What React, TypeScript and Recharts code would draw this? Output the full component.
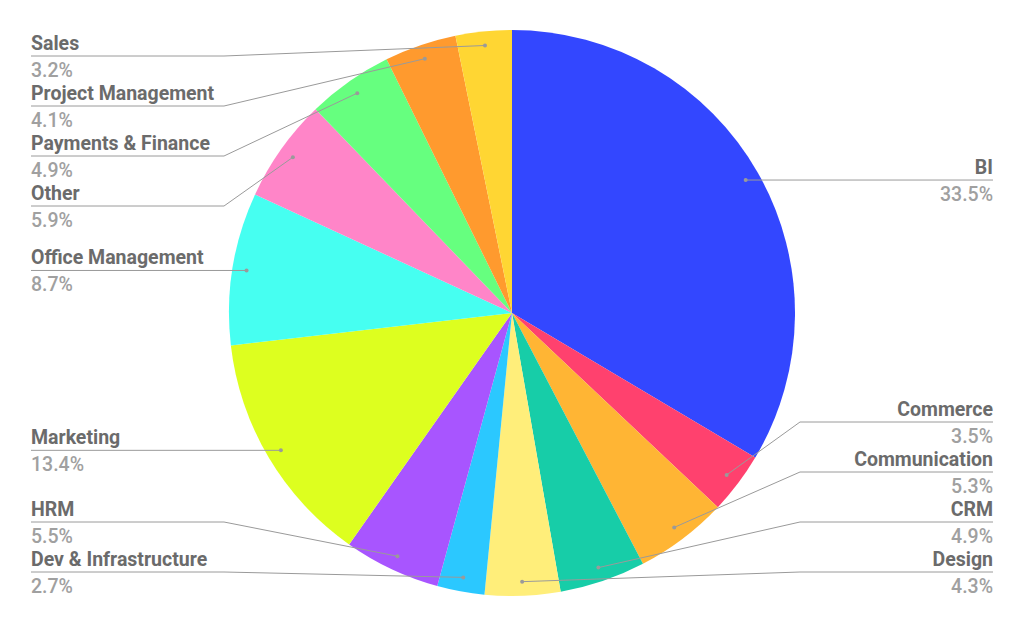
import { PieChart, Pie, Cell } from "recharts"

const categories = [
  "BI",
  "Commerce",
  "Communication",
  "CRM",
  "Design",
  "Dev & Infrastructure",
  "HRM",
  "Marketing",
  "Office Management",
  "Other",
  "Payments & Finance",
  "Project Management",
  "Sales",
]

const shares = [33.5, 3.5, 5.3, 4.9, 4.3, 2.7, 5.5, 13.4, 8.7, 5.9, 4.9, 4.1, 3.2]

const COLORS = [
  "#3347ff",
  "#ff416e",
  "#ffb534",
  "#17cda8",
  "#ffee7a",
  "#2bc8ff",
  "#a855ff",
  "#ddff1f",
  "#46fff1",
  "#ff85c8",
  "#66ff7f",
  "#ff9a2e",
  "#ffd633",
]

const data = categories.map((name, i) => ({ name, value: shares[i] }))

const W = 1024
const H = 628
const CX = 512
const CY = 313
const R = 283
const DOT_R = R * 0.95
const LEFT_X = 31
const RIGHT_X = 993
const LEFT_KNEE = 224
const RIGHT_KNEE = 800
const GAP = 50
const TOP_Y = 56
const BOTTOM_Y = 572
const RAD = Math.PI / 180

// spread label rows on each side so they do not overlap
function layoutLabels() {
  const total = shares.reduce((a, b) => a + b, 0)
  let cum = 0
  const items = shares.map((v, i) => {
    const mid = 90 - (360 * (cum + v / 2)) / total
    cum += v
    const y = CY - DOT_R * Math.sin(mid * RAD)
    const right = Math.cos(mid * RAD) >= 0
    return { i, y, right }
  })
  const ys: number[] = new Array(shares.length).fill(0)
  ;[true, false].forEach((side) => {
    const list = items.filter((it) => it.right === side).sort((a, b) => a.y - b.y)
    const pos = list.map((it) => it.y)
    for (let k = 0; k < pos.length; k++) {
      pos[k] = Math.max(pos[k], TOP_Y, k > 0 ? pos[k - 1] + GAP : TOP_Y)
    }
    for (let k = pos.length - 1; k >= 0; k--) {
      pos[k] = Math.min(pos[k], BOTTOM_Y, k < pos.length - 1 ? pos[k + 1] - GAP : BOTTOM_Y)
    }
    list.forEach((it, k) => {
      ys[it.i] = pos[k]
    })
  })
  return ys
}

const labelY = layoutLabels()

function renderLabel(props: any) {
  const { cx, cy, midAngle, index, name, value } = props
  const dx = cx + DOT_R * Math.cos(-midAngle * RAD)
  const dy = cy + DOT_R * Math.sin(-midAngle * RAD)
  const right = Math.cos(-midAngle * RAD) >= 0
  const ly = labelY[index]
  const knee = right ? Math.max(RIGHT_KNEE, dx) : Math.min(LEFT_KNEE, dx)
  const end = right ? RIGHT_X : LEFT_X
  return (
    <g>
      <polyline
        points={`${dx},${dy} ${knee},${ly} ${end},${ly}`}
        fill="none"
        stroke="#9a9a9a"
        strokeWidth={1}
      />
      <circle cx={dx} cy={dy} r={2} fill="#9a9a9a" />
      <text
        x={end}
        y={ly - 6}
        textAnchor={right ? "end" : "start"}
        fill="#6b6b6b"
        fontSize={19.5}
        fontWeight={700}
        fontFamily="Roboto"
      >
        {name}
      </text>
      <text
        x={end}
        y={ly + 21}
        textAnchor={right ? "end" : "start"}
        fill="#a0a0a0"
        fontSize={19.5}
        fontWeight={500}
        fontFamily="Roboto"
      >
        {`${value.toFixed(1)}%`}
      </text>
    </g>
  )
}

export default function App() {
  return (
    <div style={{ position: "fixed", left: 0, top: 0, width: W, height: H, background: "#fff" }}>
      <PieChart width={W} height={H} margin={{ top: 0, right: 0, bottom: 0, left: 0 }}>
        <Pie
          data={data}
          dataKey="value"
          nameKey="name"
          cx={CX}
          cy={CY}
          outerRadius={R}
          startAngle={90}
          endAngle={-270}
          stroke="none"
          labelLine={false}
          label={renderLabel}
          isAnimationActive={false}
        >
          {data.map((entry, index) => (
            <Cell key={`cell-${index}`} fill={COLORS[index]} />
          ))}
        </Pie>
      </PieChart>
    </div>
  )
}
